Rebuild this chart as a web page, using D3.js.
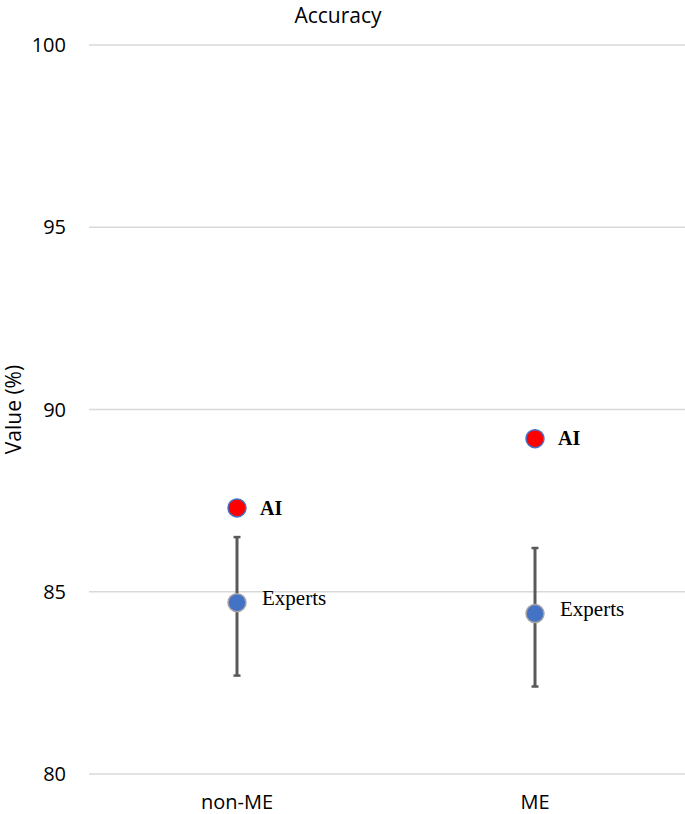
<!DOCTYPE html>
<html>
<head>
<meta charset="utf-8">
<script src="https://cdn.jsdelivr.net/npm/d3@7"></script>
<style>
  body { margin: 0; background: #fff; }
  svg { display: block; }
  .tick-label { font-family: "Open Sans", "Noto Sans", sans-serif; font-size: 20px; fill: #000; }
  .grid line { stroke: #d9d9d9; stroke-width: 1.3; }
  .pt-label { font-family: "Liberation Serif", "DejaVu Serif", serif; fill: #000; }
</style>
</head>
<body>
<svg id="chart" width="685" height="814"></svg>
<script>
// ── Data ──
const categories = ["non-ME", "ME"];
const aiValues = [87.3, 89.2];
const expertValues = [84.7, 84.4];
const expertLow = [82.7, 82.4];
const expertHigh = [86.5, 86.2];
const yTicks = [80, 85, 90, 95, 100];

const W = 685, H = 814;
const svg = d3.select("#chart");

const x = d3.scaleBand().domain(categories).range([88, 684]);
const y = d3.scaleLinear().domain([80, 100]).range([774, 45]);
const cx = c => x(c) + x.bandwidth() / 2;

// ── Gridlines ──
svg.append("g").attr("class", "grid")
  .selectAll("line").data(yTicks).join("line")
  .attr("x1", 89).attr("x2", W)
  .attr("y1", d => y(d)).attr("y2", d => y(d));

// ── Y tick labels ──
svg.append("g").selectAll("text").data(yTicks).join("text")
  .attr("class", "tick-label")
  .attr("x", 66).attr("y", d => y(d))
  .attr("dy", "0.35em").attr("text-anchor", "end")
  .text(d => d);

// ── X category labels ──
svg.append("g").selectAll("text").data(categories).join("text")
  .attr("class", "tick-label")
  .attr("x", d => cx(d)).attr("y", 809)
  .attr("text-anchor", "middle")
  .text(d => d);

// ── Title + axis title ──
svg.append("text").attr("class", "tick-label")
  .attr("x", 338).attr("y", 23).attr("text-anchor", "middle")
  .style("font-size", "21px")
  .text("Accuracy");

svg.append("text").attr("class", "tick-label")
  .attr("transform", `translate(21,${y(90)}) rotate(-90)`)
  .attr("text-anchor", "middle")
  .style("font-size", "21px")
  .text("Value (%)");

// ── Error bars (experts) ──
const eb = svg.append("g").attr("stroke", "#595959").attr("stroke-width", 3);
categories.forEach((c, i) => {
  eb.append("line").attr("x1", cx(c)).attr("x2", cx(c))
    .attr("y1", y(expertLow[i])).attr("y2", y(expertHigh[i]));
  [expertLow[i], expertHigh[i]].forEach(v => {
    eb.append("line").attr("x1", cx(c) - 3.5).attr("x2", cx(c) + 3.5)
      .attr("y1", y(v)).attr("y2", y(v)).attr("stroke-width", 2.5);
  });
});

// ── Points ──
svg.append("g").selectAll("circle").data(categories).join("circle")
  .attr("cx", d => cx(d)).attr("cy", (d, i) => y(expertValues[i]))
  .attr("r", 9).attr("fill", "#4472c4")
  .attr("stroke", "#a5a5a5").attr("stroke-width", 1.5);

svg.append("g").selectAll("circle").data(categories).join("circle")
  .attr("cx", d => cx(d)).attr("cy", (d, i) => y(aiValues[i]))
  .attr("r", 9).attr("fill", "#ff0000")
  .attr("stroke", "#4472c4").attr("stroke-width", 1.5);

// ── Point labels ──
svg.append("g").selectAll("text").data(categories).join("text")
  .attr("class", "pt-label")
  .attr("x", d => cx(d) + 23).attr("y", (d, i) => y(aiValues[i]))
  .attr("dy", "0.33em")
  .style("font-size", "20px").style("font-weight", "bold")
  .text("AI");

svg.append("g").selectAll("text").data(categories).join("text")
  .attr("class", "pt-label")
  .attr("x", d => cx(d) + 25).attr("y", (d, i) => y(expertValues[i]) - 5)
  .attr("dy", "0.33em")
  .style("font-size", "21px")
  .text("Experts");
</script>
</body>
</html>
